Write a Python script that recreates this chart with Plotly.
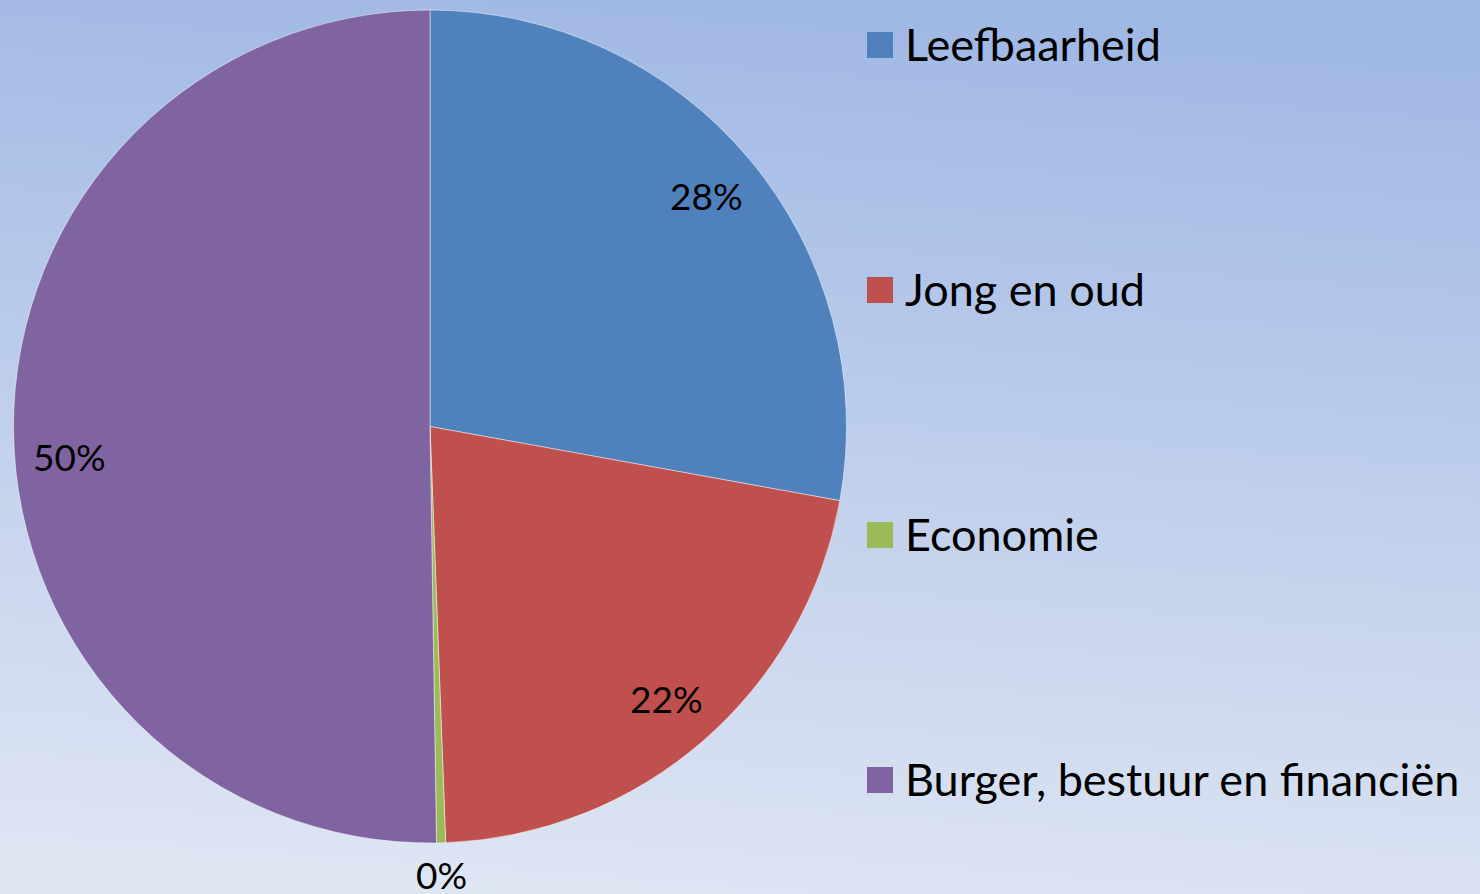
import math, base64
import plotly.graph_objects as go

categories = ["Leefbaarheid", "Jong en oud", "Economie", "Burger, bestuur en financiën"]
values = [27.85, 21.55, 0.35, 50.25]
colors = ["#4F81BD", "#C0504D", "#9BBB59", "#8064A2"]

W, H = 1480, 894
FONT = "Lato"

# pie geometry (pixels)
cx, cy, R = 430, 426.5, 416.5
dom_x = [(cx - R) / W, (cx + R) / W]
dom_y = [(H - (cy + R)) / H, (H - (cy - R)) / H]

fig = go.Figure()
fig.add_trace(go.Pie(
    labels=categories, values=values, sort=False, direction="clockwise", rotation=0,
    marker=dict(colors=colors, line=dict(color="rgba(255,255,255,0.6)", width=0.8)),
    textinfo="none", hoverinfo="label+percent", showlegend=False,
    domain=dict(x=dom_x, y=dom_y),
))

# percentage labels, placed from the data (mid-angle of each slice)
total = sum(values)
cum = 0.0
annotations = []
for i, v in enumerate(values):
    frac = v / total
    mid = (cum + frac / 2) * 2 * math.pi
    cum += frac
    rfrac = 0.865 if frac > 0.03 else 1.075
    px = cx + rfrac * R * math.sin(mid)
    py = cy - rfrac * R * math.cos(mid)
    yshift = -27 if frac > 0.45 else 0
    annotations.append(dict(
        x=px / W, y=1 - py / H, xref="paper", yref="paper",
        text=f"{round(frac * 100):d}%", showarrow=False, yshift=yshift,
        font=dict(family=FONT, size=37, color="black"),
        xanchor="center", yanchor="middle",
    ))

# manual legend (large squares, wide spacing)
shapes = []
leg_x0, sq = 867, 26
for i, (name, col) in enumerate(zip(categories, colors)):
    yc = 45 + 245 * i
    shapes.append(dict(type="rect", xref="paper", yref="paper",
                       x0=leg_x0 / W, x1=(leg_x0 + sq) / W,
                       y0=1 - (yc + sq / 2) / H, y1=1 - (yc - sq / 2) / H,
                       fillcolor=col, line=dict(width=0)))
    annotations.append(dict(
        x=903 / W, y=1 - (yc - 1) / H, xref="paper", yref="paper",
        text=name, showarrow=False, xanchor="left", yanchor="middle",
        font=dict(family=FONT, size=45, color="black"),
    ))

# gradient background
svg = (f'<svg xmlns="http://www.w3.org/2000/svg" width="{W}" height="{H}" preserveAspectRatio="none">'
       '<defs><linearGradient id="g" x1="0.56" y1="0" x2="0.44" y2="1">'
       '<stop offset="0" stop-color="#9fb8e4"/><stop offset="1" stop-color="#dee5f3"/>'
       '</linearGradient></defs>'
       f'<rect width="{W}" height="{H}" fill="url(#g)"/></svg>')
src = "data:image/svg+xml;base64," + base64.b64encode(svg.encode()).decode()

fig.update_layout(
    width=W, height=H, margin=dict(l=0, r=0, t=0, b=0),
    paper_bgcolor="#c4d2ec", plot_bgcolor="rgba(0,0,0,0)",
    annotations=annotations, shapes=shapes,
    images=[dict(source=src, xref="paper", yref="paper", x=0, y=1, sizex=1, sizey=1,
                 xanchor="left", yanchor="top", sizing="stretch", layer="below")],
    xaxis=dict(visible=False), yaxis=dict(visible=False),
)

fig.write_html("out.html")
